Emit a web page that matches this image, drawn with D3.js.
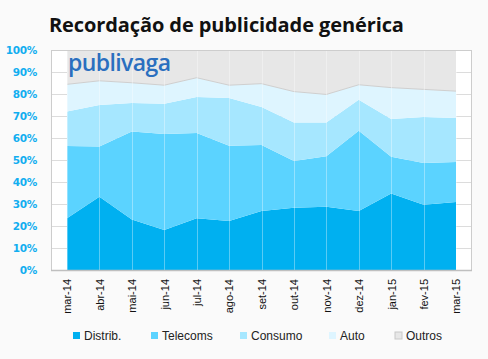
<!DOCTYPE html>
<html><head><meta charset="utf-8">
<script src="https://cdn.jsdelivr.net/npm/d3@7"></script>
<style>
html,body{margin:0;padding:0;background:#fafafa;}
svg{display:block;}
</style></head>
<body>
<svg id="c" width="488" height="359"></svg>
<script>
const months = ["mar-14","abr-14","mai-14","jun-14","jul-14","ago-14","set-14","out-14","nov-14","dez-14","jan-15","fev-15","mar-15"];
const seriesNames = ["Distrib.","Telecoms","Consumo","Auto","Outros"];
const distrib  = [23.5,33.3,23.0,18.2,23.5,22.3,26.8,28.3,28.8,26.8,34.8,29.7,30.9];
const telecoms = [32.9,22.8,39.9,43.6,38.8,34.2,30.0,21.2,22.9,36.5,16.7,18.9,18.2];
const consumo  = [15.6,18.9,13.0,13.8,16.3,21.7,17.3,17.5,15.3,14.1,17.1,20.9,20.0];
const auto     = [12.4,11.0, 9.2, 8.4, 8.8, 5.8,10.6,14.1,12.8, 6.8,14.3,12.6,12.2];
const outros   = [15.6,14.0,14.9,16.0,12.6,16.0,15.3,18.9,20.2,15.8,17.1,17.9,18.7];
const yTicks = [0,10,20,30,40,50,60,70,80,90,100];
const colors = ["#00b0f0","#5bd3ff","#a6e7ff","#def5ff","#e7e7e7"];

const svg = d3.select("#c");
const L=51, R=472, T=50, B=270;

svg.append("text").attr("x",49).attr("y",32)
  .attr("font-family","Open Sans, sans-serif").attr("font-weight","bold")
  .attr("font-size",20).attr("letter-spacing",-0.1).attr("fill","#111").text("Recordação de publicidade genérica");

svg.append("rect").attr("x",L).attr("y",T).attr("width",R-L).attr("height",B-T).attr("fill","#fff");

const x = d3.scalePoint().domain(months).range([67,456]);
const y = d3.scaleLinear().domain([0,100]).range([B,T]);

svg.append("g").selectAll("line").data(yTicks).join("line")
  .attr("x1",L).attr("x2",R).attr("y1",d=>y(d)+0.5).attr("y2",d=>y(d)+0.5)
  .attr("stroke","#dcdcdc");

const rows = months.map((m,i)=>({m, "Distrib.":distrib[i], "Telecoms":telecoms[i], "Consumo":consumo[i], "Auto":auto[i], "Outros":outros[i]}));
const stacked = d3.stack().keys(seriesNames)(rows);
const area = d3.area().x(d=>x(d.data.m)).y0(d=>y(d[0])).y1(d=>y(Math.min(100,d[1])));
svg.append("g").selectAll("path").data(stacked).join("path")
  .attr("d",area).attr("fill",(d,i)=>colors[i]);
const line = d3.line().x(d=>x(d.data.m)).y(d=>y(d[0]));
svg.append("path").datum(stacked[4]).attr("d",line).attr("fill","none").attr("stroke","#cfcfcf").attr("stroke-width",1);

svg.append("g").selectAll("line").data(months).join("line")
  .attr("x1",d=>Math.round(x(d))+0.5).attr("x2",d=>Math.round(x(d))+0.5).attr("y1",T).attr("y2",B)
  .attr("stroke","rgba(255,255,255,0.35)");

svg.append("rect").attr("x",L+0.5).attr("y",T+0.5).attr("width",R-L-1).attr("height",B-T).attr("fill","none").attr("stroke","#cdcdcd");
svg.append("line").attr("x1",L).attr("x2",R).attr("y1",B+0.5).attr("y2",B+0.5).attr("stroke","#bfbfbf").attr("stroke-width",1.5);

// logo
svg.append("text").attr("x",68).attr("y",71)
  .attr("font-family","Open Sans, sans-serif").attr("font-weight",600)
  .attr("font-size",23).attr("fill","#2a6fbf").attr("letter-spacing",-0.6).text("publivaga");

const yAxis = d3.axisLeft(y).tickValues(yTicks).tickFormat(d=>d+"%").tickSize(0).tickPadding(0);
const gy = svg.append("g").attr("transform",`translate(37,0)`).call(yAxis);
gy.select(".domain").remove();
gy.selectAll("text").attr("font-family","DejaVu Sans, sans-serif").attr("font-weight","bold")
  .attr("font-size",10.5).attr("letter-spacing",-0.3).attr("fill","#12aef0");

const xAxis = d3.axisBottom(x).tickSize(0).tickPadding(0);
const gx = svg.append("g").attr("transform",`translate(0,${B})`).call(xAxis);
gx.select(".domain").remove();
gx.selectAll("text").attr("font-family","Liberation Sans, Arial, sans-serif").attr("font-size",11).attr("fill","#111")
  .attr("text-anchor","end").attr("dy","0.35em")
  .attr("transform","translate(0,9) rotate(-90)");

const legX = [73,151,240,329,395];
const lg = svg.append("g").selectAll("g").data(seriesNames).join("g")
  .attr("transform",(d,i)=>`translate(${legX[i]},332)`);
lg.append("rect").attr("width",7).attr("height",7).attr("fill",(d,i)=>colors[i])
  .attr("stroke",(d,i)=>i===4?"#c8c8c8":"none");
lg.append("text").attr("x",11).attr("y",7.5).attr("font-family","Liberation Sans, Arial, sans-serif")
  .attr("font-size",12).attr("fill","#222").text(d=>d);
</script>
</body></html>
